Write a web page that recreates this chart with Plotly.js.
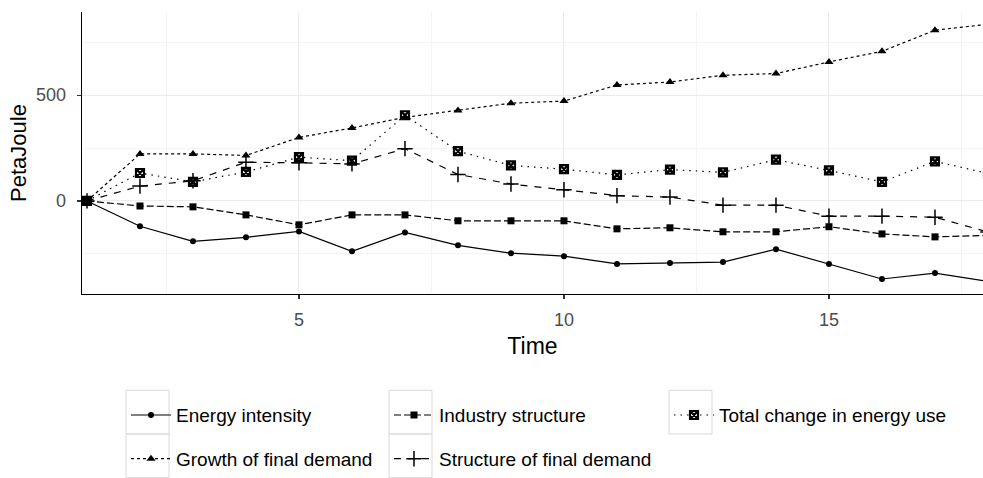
<!DOCTYPE html>
<html>
<head>
<meta charset="utf-8">
<script src="https://cdn.plot.ly/plotly-3.0.1.min.js"></script>
<style>html,body{margin:0;padding:0;background:#fff;}#chart{width:983px;height:478px;}</style>
</head>
<body>
<div id="chart"></div>
<script>
var time = [1,2,3,4,5,6,7,8,9,10,11,12,13,14,15,16,17,18];
var energyIntensity   = [0,-120,-191,-172,-144,-238,-149,-210,-247,-261,-298,-294,-289,-228,-298,-369,-341,-380];
var industryStructure = [0,-24,-28,-66,-113,-66,-66,-94,-94,-94,-132,-127,-146,-146,-122,-156,-170,-163];
var totalChange       = [0,132,90,137,207,190,405,235,168,150,123,148,135,195,144,90,187,130];
var growthDemand      = [0,222,222,215,300,345,395,427,462,472,548,562,594,602,657,707,807,835];
var structureDemand   = [0,70,95,183,180,175,247,125,80,53,25,18,-20,-20,-72,-72,-77,-147];

var seriesNames = ["Energy intensity","Industry structure","Total change in energy use","Growth of final demand","Structure of final demand"];
var xTicks = [5,10,15];
var yTicks = [0,500];

var W = 983, H = 478, mL = 82, mR = 0, mT = 12, mB = 182;
var pw = W - mL - mR, ph = H - mT - mB;
function px2x(p){ return (p - mL) / pw; }
function py2y(p){ return (H - mB - p) / ph; }

function tr(name, y, dash, sym, size, lw, legendId){
  return {
    x: time, y: y, name: name, type: 'scatter', mode: 'lines+markers',
    line: {color: '#000', width: 1.2, dash: dash},
    marker: {color: '#000', symbol: sym, size: size, line: {color: '#000', width: lw}},
    legend: legendId, cliponaxis: true
  };
}
var data = [
  tr(seriesNames[0], energyIntensity, 'solid', 'circle', 6, 0, 'legend'),
  tr(seriesNames[1], industryStructure, '7px,3px', 'square', 7, 0, 'legend2'),
  tr(seriesNames[2], totalChange, '1.5px,5px', 'square-x-open', 8, 2.2, 'legend3'),
  tr(seriesNames[3], growthDemand, '3px,3px', 'triangle-up', 8, 0, 'legend4'),
  tr(seriesNames[4], structureDemand, '7px,7px', 'cross-thin-open', 11, 1.5, 'legend5')
];

var legendFont = {family: 'Liberation Sans, Arial, sans-serif', size: 19, color: '#000'};
function lg(pxLeft, pyMid){
  return {x: px2x(pxLeft), y: py2y(pyMid), xanchor: 'left', yanchor: 'middle',
          font: legendFont, bgcolor: 'rgba(0,0,0,0)', borderwidth: 0, itemwidth: 40, orientation: 'v'};
}
var boxes = [[126,393],[389,393],[669,393],[126,437],[389,437]];
var shapes = boxes.map(function(b){
  return {type:'rect', xref:'paper', yref:'paper', x0:px2x(b[0]), x1:px2x(b[0]+43), y0:py2y(b[1]), y1:py2y(b[1]+44),
          line:{color:'#d9d9d9', width:1}, fillcolor:'rgba(0,0,0,0)', layer:'below'};
});

var layout = {
  width: W, height: H,
  margin: {l: mL, r: mR, t: mT, b: mB},
  paper_bgcolor: '#fff', plot_bgcolor: '#fff',
  font: {family: 'Liberation Sans, Arial, sans-serif', color: '#000'},
  xaxis: {
    range: [0.906, 17.906], tickvals: xTicks, ticks: 'outside', ticklen: 4, tickwidth: 1.2, tickcolor: '#333',
    tickfont: {size: 18, color: '#4d4d4d'}, showline: true, linecolor: '#000', linewidth: 1.3, ticklabelstandoff: 5,
    showgrid: true, gridcolor: '#ebebeb', gridwidth: 1, zeroline: false,
    minor: {dtick: 2.5, tick0: 0, showgrid: true, gridcolor: '#f4f4f4', gridwidth: 1, ticks: ''},
    title: {text: 'Time', font: {size: 23, color: '#000'}, standoff: 9}
  },
  yaxis: {
    range: [-440, 893], tickvals: yTicks, ticks: 'outside', ticklen: 4, tickwidth: 1.2, tickcolor: '#333',
    tickfont: {size: 18, color: '#4d4d4d'}, showline: true, linecolor: '#000', linewidth: 1.3, ticklabelstandoff: 7,
    showgrid: true, gridcolor: '#ebebeb', gridwidth: 1, zeroline: false,
    minor: {dtick: 250, tick0: 0, showgrid: true, gridcolor: '#f4f4f4', gridwidth: 1, ticks: ''},
    title: {text: 'PetaJoule', font: {size: 22, color: '#000'}, standoff: 3}
  },
  showlegend: true,
  legend: lg(126, 418),
  legend2: lg(389, 418),
  legend3: lg(669, 418),
  legend4: lg(126, 462),
  legend5: lg(389, 462),
  shapes: shapes
};
Plotly.newPlot('chart', data, layout, {displayModeBar: false, staticPlot: true});
</script>
</body>
</html>
